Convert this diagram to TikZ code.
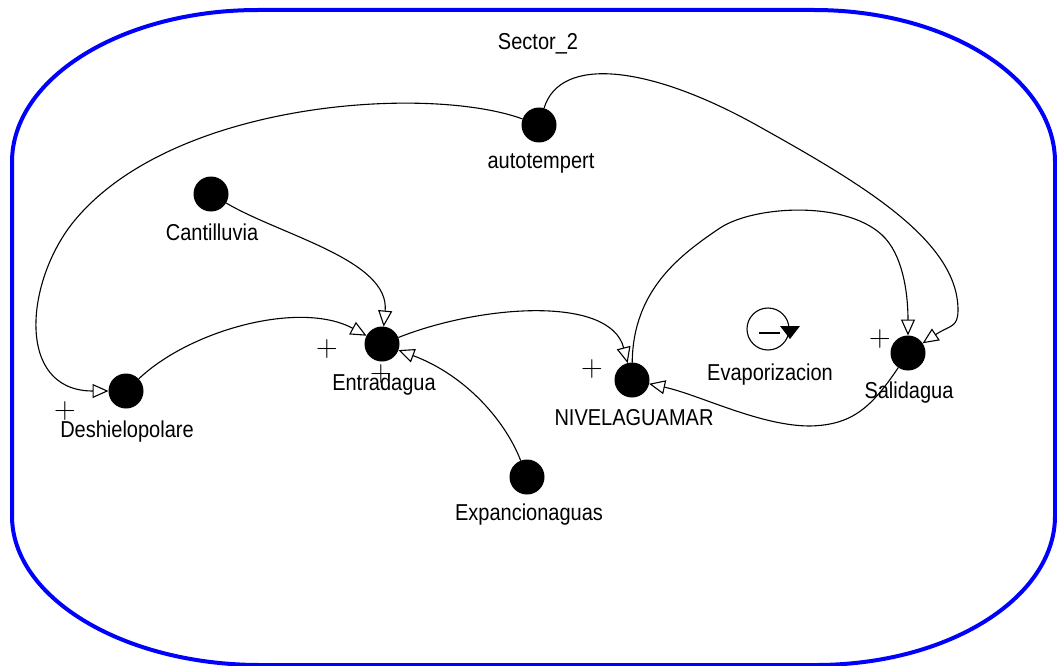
\documentclass[tikz,border=0pt]{standalone}
\usepackage{fontspec}
\newfontfamily\labfont{Liberation Sans}[FakeStretch=0.87]
\usetikzlibrary{arrows.meta}
\definecolor{frameblue}{RGB}{0,0,255}
\tikzset{
  dot/.style={circle, fill=black, minimum size=35pt, inner sep=0pt, outer sep=0pt},
  lab/.style={font=\labfont\fontsize{23}{27}\selectfont, anchor=base, inner sep=0pt},
  plussign/.style={font=\fontsize{30}{30}\selectfont, inner sep=0pt},
  link/.style={draw, line width=1.1pt, -{Triangle[open, length=16pt, width=14pt, line width=1.1pt]}},
  framestyle/.style={draw=frameblue, line width=4pt},
}
\begin{document}
\begin{tikzpicture}[x=1pt,y=-1pt]
\useasboundingbox (0,0) rectangle (1057,666);
% frame
\draw[framestyle] (12,162) .. controls (12,78) and (122,10) .. (258,10)
  -- (814,10) .. controls (947,10) and (1055,78) .. (1055,162)
  -- (1055,516) .. controls (1055,598) and (948,665) .. (816,665)
  -- (260,665) .. controls (124,665) and (12,598) .. (12,516) -- cycle;
\node[lab] (sector) at (538,50) {Sector\_2};
% variables
\node[dot] (auto) at (539,125) {};
\node[dot] (cant) at (211,194) {};
\node[dot] (entra) at (382,344) {};
\node[dot] (nivel) at (632,380) {};
\node[dot] (sali) at (908,353) {};
\node[dot] (desh) at (126,391) {};
\node[dot] (expa) at (527,477) {};
% labels
\node[lab] (autoL) at (541,168) {autotempert};
\node[lab] (cantL) at (212,240) {Cantilluvia};
\node[lab] (entraL) at (384,390) {Entradagua};
\node[lab] (nivelL) at (634,425) {NIVELAGUAMAR};
\node[lab] (saliL) at (909,398) {Salidagua};
\node[lab] (deshL) at (127,437) {Deshielopolare};
\node[lab] (expaL) at (529,520) {Expancionaguas};
\node[lab] (evapL) at (770,380) {Evaporizacion};
% evaporation loop symbol
\node[circle, draw, line width=1.1pt, minimum size=42pt, inner sep=0pt] (evap) at (768,329) {};
\draw[line width=1.1pt] (759,333) -- (780,333);
\fill (780,326) -- (800,326) -- (790,339) -- cycle;
% plus signs
\node[plussign] (p1) at (327,349) {+};
\node[plussign] (p2) at (381,374) {+};
\node[plussign] (p3) at (592,369) {+};
\node[plussign] (p4) at (880,339) {+};
\node[plussign] (p5) at (65,411) {+};
% connectors
\draw[link] (auto) .. controls (430,85) and (175,100) .. (75,220)
  .. controls (25,280) and (15,391) .. (desh);
\draw[link] (auto) .. controls (560,55) and (650,65) .. (760,127)
  .. controls (860,183) and (958,240) .. (958,310)
  .. controls (958,328) and (950,325) .. (sali);
\draw[link] (cant) .. controls (280,235) and (390,260) .. (entra);
\draw[link] (desh) .. controls (190,330) and (300,300) .. (entra);
\draw[link] (entra) .. controls (480,305) and (610,295) .. (nivel);
\draw[link] (expa) .. controls (505,420) and (465,375) .. (entra);
\draw[link] (nivel) .. controls (633,290) and (680,255) .. (720,228)
  .. controls (755,205) and (850,200) .. (885,238)
  .. controls (905,260) and (908,300) .. (sali);
\draw[link] (sali) .. controls (870,410) and (850,425) .. (810,426)
  .. controls (760,426) and (700,395) .. (nivel);
\end{tikzpicture}
\end{document}
